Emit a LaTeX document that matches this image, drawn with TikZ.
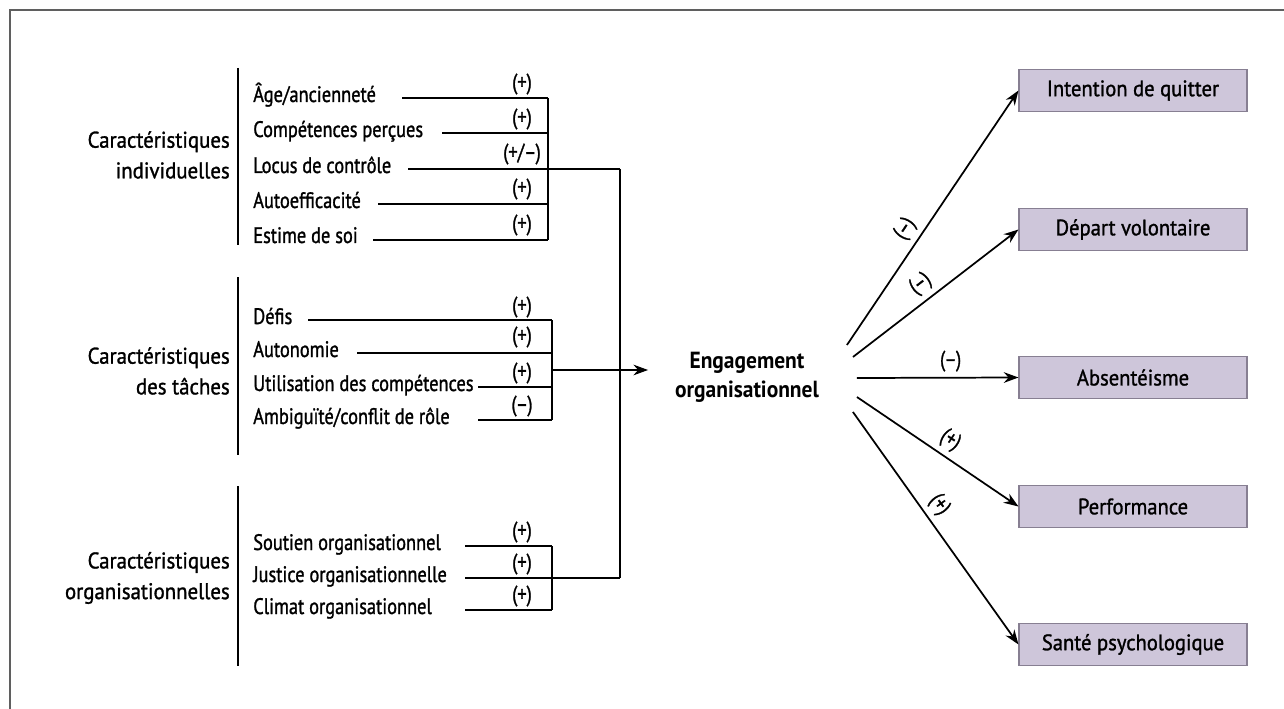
\documentclass[tikz,border=0pt]{standalone}
\usepackage{fontspec}
\setmainfont{PT Sans}[FakeStretch=0.92,FakeBold=1.2]
\newfontfamily\itemfont{PT Sans}[FakeStretch=0.82,FakeBold=1.2]
\newfontfamily\boldfont{PT Sans Bold}[FakeStretch=0.92]
\usetikzlibrary{arrows.meta,calc}
\definecolor{boxfill}{RGB}{206,198,218}
\definecolor{boxedge}{RGB}{135,127,146}
\definecolor{framegray}{RGB}{95,95,95}
\begin{document}
\begin{tikzpicture}[x=0.75pt,y=-0.75pt,
  item/.style={anchor=base west, inner sep=0pt, font=\itemfont\fontsize{16.8}{18}\selectfont},
  grouplabel/.style={anchor=east, align=right, inner sep=0pt, font=\fontsize{17}{23}\selectfont},
  sign/.style={inner sep=0pt, font=\itemfont\fontsize{16.8}{18}\selectfont},
  link/.style={line width=1.4pt},
  bar/.style={line width=2.2pt},
  outbox/.style={fill=boxfill, draw=boxedge, line width=0.8pt, minimum width=171pt,
    minimum height=32pt, inner sep=0pt, font=\fontsize{16.8}{18}\selectfont},
  arr/.style={line width=1.3pt, -{Stealth[length=11pt,width=8pt]}},
]
\useasboundingbox (0,0) rectangle (1284,709);
% frame
\draw[framegray, line width=1.2pt] (10,709) -- (10,10) -- (1284,10);

% group labels and bars
\node[grouplabel] (g1) at (230,155) {Caractéristiques\\individuelles};
\node[grouplabel] (g2) at (230,371) {Caractéristiques\\des tâches};
\node[grouplabel] (g3) at (230,578) {Caractéristiques\\organisationnelles};
\draw[bar] (238,68) -- (238,245);
\draw[bar] (238,277) -- (238,455);
\draw[bar] (238,486) -- (238,666);

% individual characteristics
\node[item] (i1) at (253,102) {Âge/ancienneté};
\node[item] (i2) at (253,137) {Compétences perçues};
\node[item] (i3) at (253,173) {Locus de contrôle};
\node[item] (i4) at (253,208) {Autoefficacité};
\node[item] (i5) at (253,243) {Estime de soi};
\coordinate (s1) at (402,98);  \coordinate (b1) at (548,98);
\coordinate (s2) at (442,133); \coordinate (b2) at (548,133);
\coordinate (s3) at (408,169); \coordinate (c3) at (620,169);
\coordinate (s4) at (378,204); \coordinate (b4) at (548,204);
\coordinate (s5) at (373,240); \coordinate (b5) at (548,240);
\draw[link] (s1) -- (b1);
\draw[link] (s2) -- (b2);
\draw[link] (s3) -- (c3);
\draw[link] (s4) -- (b4);
\draw[link] (s5) -- (b5);
\draw[link] (b1) -- (b5);
\node[sign] (p1) at (522,84) {(+)};
\node[sign] (p2) at (522,119) {(+)};
\node[sign] (p3) at (522,154) {(+/–)};
\node[sign] (p4) at (522,189) {(+)};
\node[sign] (p5) at (522,225) {(+)};

% task characteristics
\node[item] (t1) at (253,324) {Défis};
\node[item] (t2) at (253,357) {Autonomie};
\node[item] (t3) at (253,391) {Utilisation des compétences};
\node[item] (t4) at (253,424) {Ambiguïté/conflit de rôle};
\coordinate (u1) at (308,320); \coordinate (d1) at (552,320);
\coordinate (u2) at (357,353); \coordinate (d2) at (552,353);
\coordinate (u3) at (478,387); \coordinate (d3) at (552,387);
\coordinate (u4) at (478,420); \coordinate (d4) at (552,420);
\draw[link] (u1) -- (d1);
\draw[link] (u2) -- (d2);
\draw[link] (u3) -- (d3);
\draw[link] (u4) -- (d4);
\draw[link] (d1) -- (d4);
\node[sign] (q1) at (522,307) {(+)};
\node[sign] (q2) at (522,337) {(+)};
\node[sign] (q3) at (522,373) {(+)};
\node[sign] (q4) at (522,406) {(–)};
\coordinate (dmid) at (552,370);

% organisational characteristics
\node[item] (o1) at (253,550) {Soutien organisationnel};
\node[item] (o2) at (253,582) {Justice organisationnelle};
\node[item] (o3) at (253,614) {Climat organisationnel};
\coordinate (v1) at (465,546); \coordinate (e1) at (552,546);
\coordinate (v2) at (465,578); \coordinate (c2) at (620,578);
\coordinate (v3) at (465,610); \coordinate (e3) at (552,610);
\draw[link] (v1) -- (e1);
\draw[link] (v2) -- (c2);
\draw[link] (v3) -- (e3);
\draw[link] (e1) -- (e3);
\node[sign] (r1) at (522,532) {(+)};
\node[sign] (r2) at (522,564) {(+)};
\node[sign] (r3) at (522,596) {(+)};

% collector and central concept
\draw[link] (c3) -- (c2);
\node[inner xsep=0pt, inner ysep=4pt, minimum width=148pt, align=center,
  font=\boldfont\fontsize{17.5}{21.5}\selectfont] (eng) at (747,377)
  {Engagement\\organisationnel};
\draw[arr] (dmid) -- (eng.west |- dmid);

% outcomes
\node[outbox] (y1) at (1133,90.5) {Intention de quitter};
\node[outbox] (y2) at (1133,229.5) {Départ volontaire};
\node[outbox] (y3) at (1133,377.5) {Absentéisme};
\node[outbox] (y4) at (1133,506.5) {Performance};
\node[outbox] (y5) at (1133,644.5) {Santé psychologique};

\coordinate (o1s) at ($(eng.east)+(1,-32)$);
\coordinate (o2s) at ($(eng.east)+(7,-20)$);
\coordinate (o3s) at ($(eng.east)+(11,1)$);
\coordinate (o4s) at ($(eng.east)+(11,20)$);
\coordinate (o5s) at ($(eng.east)+(7,35)$);
\draw[arr] (o1s) -- node[sign, sloped, above=4pt, pos=0.42] {(–)} (y1.west);
\draw[arr] (o2s) -- node[sign, sloped, above=4pt, pos=0.47] {(–)} (y2.west);
\draw[arr] (o3s) -- node[sign, above=4pt, pos=0.58] {(–)} (y3.west);
\draw[arr] (o4s) -- node[sign, sloped, above=4pt, pos=0.52] {(+)} (y4.west);
\draw[arr] (o5s) -- node[sign, sloped, above=4pt, pos=0.44] {(+)} (y5.west);
\end{tikzpicture}
\end{document}
